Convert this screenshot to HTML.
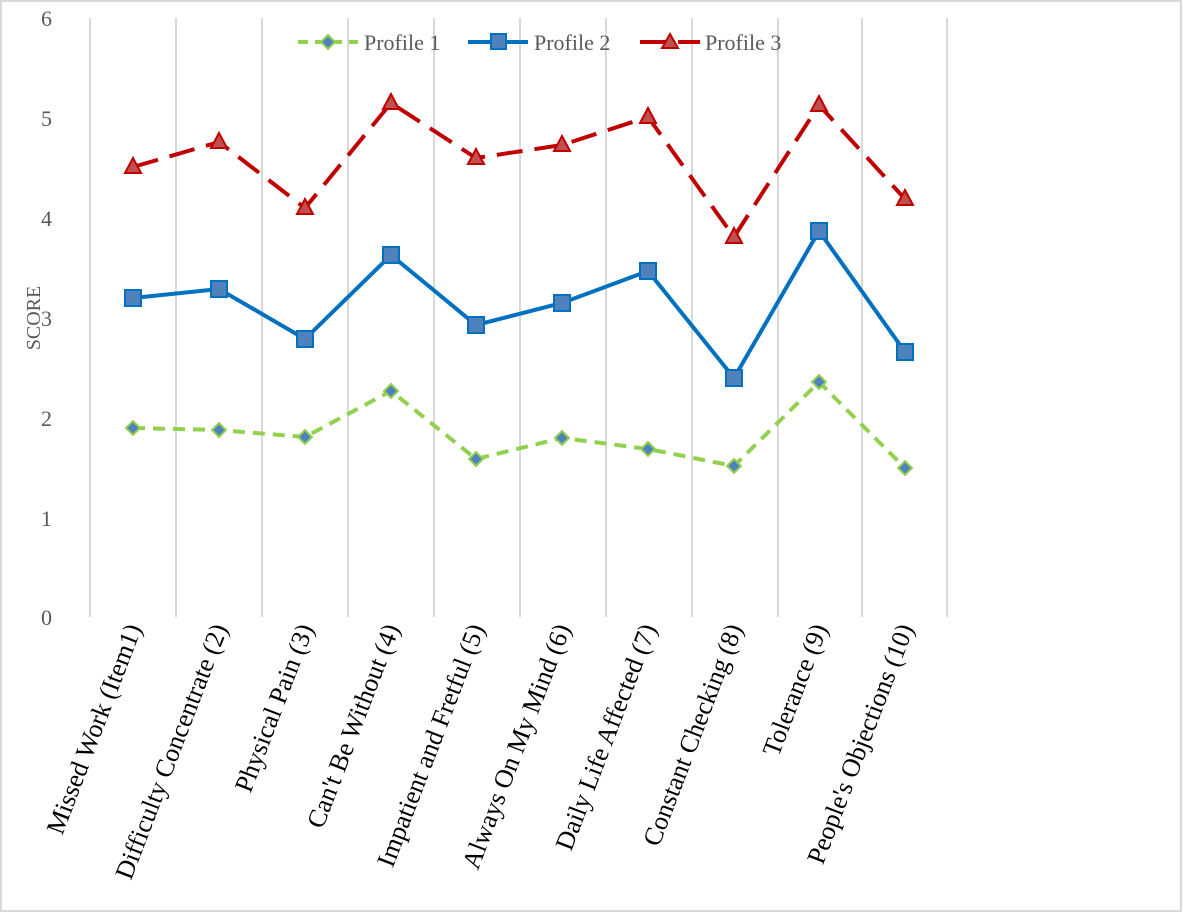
<!DOCTYPE html>
<html><head><style>body{margin:0;background:#fff}svg{display:block}</style></head><body>
<svg width="1183" height="913" xmlns="http://www.w3.org/2000/svg" font-family="Liberation Serif, serif">
<rect x="1" y="1" width="1180" height="910" fill="#fff" stroke="#d9d9d9" stroke-width="2"/>
<g stroke="#d9d9d9" stroke-width="2">
<line x1="90" y1="18" x2="90" y2="617"/><line x1="176" y1="18" x2="176" y2="617"/><line x1="262" y1="18" x2="262" y2="617"/><line x1="348" y1="18" x2="348" y2="617"/><line x1="434" y1="18" x2="434" y2="617"/><line x1="520" y1="18" x2="520" y2="617"/><line x1="606" y1="18" x2="606" y2="617"/><line x1="692" y1="18" x2="692" y2="617"/><line x1="778" y1="18" x2="778" y2="617"/><line x1="862" y1="18" x2="862" y2="617"/><line x1="947" y1="18" x2="947" y2="617"/>
</g>
<g fill="#595959" font-size="22" text-anchor="end">
<text x="52" y="26">6</text><text x="52" y="126">5</text><text x="52" y="226">4</text><text x="52" y="326">3</text><text x="52" y="426">2</text><text x="52" y="526">1</text><text x="52" y="625">0</text>
</g>
<text transform="translate(40,318) rotate(-90)" text-anchor="middle" font-size="20" fill="#595959">SCORE</text>
<polyline fill="none" stroke="#92d050" stroke-width="4" stroke-dasharray="12,8" points="133,428 219,430 305,437 391,391 476,459 562,438 648,449 734,466 819,382 905,468"/>
<g fill="#4f81bd" stroke="#92d050" stroke-width="2">
<path d="M133,421l7,7l-7,7l-7,-7z"/><path d="M219,423l7,7l-7,7l-7,-7z"/><path d="M305,430l7,7l-7,7l-7,-7z"/><path d="M391,384l7,7l-7,7l-7,-7z"/><path d="M476,452l7,7l-7,7l-7,-7z"/><path d="M562,431l7,7l-7,7l-7,-7z"/><path d="M648,442l7,7l-7,7l-7,-7z"/><path d="M734,459l7,7l-7,7l-7,-7z"/><path d="M819,375l7,7l-7,7l-7,-7z"/><path d="M905,461l7,7l-7,7l-7,-7z"/>
</g>
<polyline fill="none" stroke="#0070c0" stroke-width="4" points="133,298 219,289 305,339 391,255 476,325 562,303 648,271 734,378 819,231 905,352"/>
<g fill="#4f81bd" stroke="#0070c0" stroke-width="2">
<rect x="125" y="290" width="16" height="16"/><rect x="211" y="281" width="16" height="16"/><rect x="297" y="331" width="16" height="16"/><rect x="383" y="247" width="16" height="16"/><rect x="468" y="317" width="16" height="16"/><rect x="554" y="295" width="16" height="16"/><rect x="640" y="263" width="16" height="16"/><rect x="726" y="370" width="16" height="16"/><rect x="811" y="223" width="16" height="16"/><rect x="897" y="344" width="16" height="16"/>
</g>
<polyline fill="none" stroke="#c00000" stroke-width="4" stroke-dasharray="26,12" points="133,167 219,142 305,208 391,103 476,158 562,145 648,117 734,237 819,105 905,199"/>
<g fill="#c0504d" stroke="#c00000" stroke-width="2">
<path d="M133,158l8,15h-16z"/><path d="M219,133l8,15h-16z"/><path d="M305,199l8,15h-16z"/><path d="M391,94l8,15h-16z"/><path d="M476,149l8,15h-16z"/><path d="M562,136l8,15h-16z"/><path d="M648,108l8,15h-16z"/><path d="M734,228l8,15h-16z"/><path d="M819,96l8,15h-16z"/><path d="M905,190l8,15h-16z"/>
</g>
<g font-size="22" fill="#595959">
<line x1="298" y1="42" x2="358" y2="42" stroke="#92d050" stroke-width="4" stroke-dasharray="10,7"/><path d="M328,35l7,7l-7,7l-7,-7z" fill="#4f81bd" stroke="#92d050" stroke-width="2"/><text x="364" y="50">Profile 1</text>
<line x1="468" y1="42" x2="528" y2="42" stroke="#0070c0" stroke-width="4"/><rect x="491" y="34" width="15" height="15" fill="#4f81bd" stroke="#0070c0" stroke-width="2"/><text x="534" y="50">Profile 2</text>
<line x1="640" y1="42" x2="700" y2="42" stroke="#c00000" stroke-width="4" stroke-dasharray="28,10"/><path d="M670,34l8,14h-16z" fill="#c0504d" stroke="#c00000" stroke-width="2"/><text x="705" y="50">Profile 3</text>
</g>
<g font-size="26" fill="#000" text-anchor="end">
<text transform="translate(142,628) rotate(-69)">Missed Work (Item1)</text>
<text transform="translate(228,628) rotate(-69)">Difficulty Concentrate (2)</text>
<text transform="translate(314,628) rotate(-69)">Physical Pain (3)</text>
<text transform="translate(400,628) rotate(-69)">Can't Be Without (4)</text>
<text transform="translate(485,628) rotate(-69)">Impatient and Fretful (5)</text>
<text transform="translate(571,628) rotate(-69)">Always On My Mind (6)</text>
<text transform="translate(657,628) rotate(-69)">Daily Life Affected (7)</text>
<text transform="translate(743,628) rotate(-69)">Constant Checking (8)</text>
<text transform="translate(828,628) rotate(-69)">Tolerance (9)</text>
<text transform="translate(914,628) rotate(-69)">People's Objections (10)</text>
</g>
</svg>
</body></html>
